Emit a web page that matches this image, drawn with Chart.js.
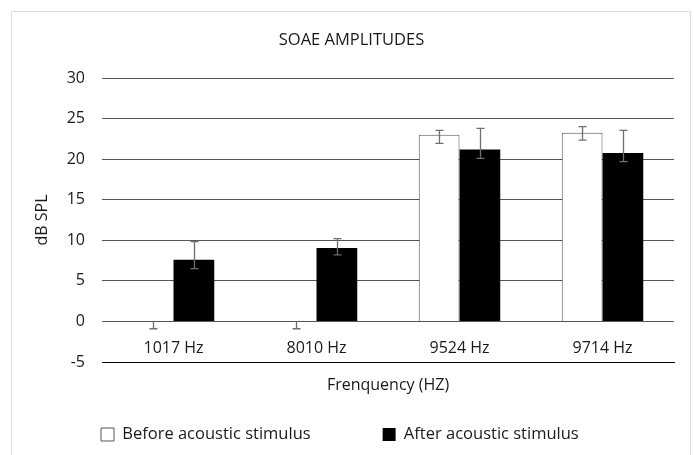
<!DOCTYPE html>
<html><head><meta charset="utf-8">
<script src="https://cdn.jsdelivr.net/npm/chart.js@4/dist/chart.umd.min.js"></script>
<style>html,body{margin:0;padding:0;background:#fff;}canvas{display:block;}</style>
</head><body>
<canvas id="c" width="694" height="455"></canvas>
<script>
const categories = ['1017 Hz', '8010 Hz', '9524 Hz', '9714 Hz'];
const seriesNames = ['Before acoustic stimulus', 'After acoustic stimulus'];
const beforeValues = [0, 0, 23.0, 23.25];
const beforeErrPlus = [0, 0, 0.55, 0.75];
const beforeErrMinus = [0.9, 0.9, 1.05, 0.9];
const afterValues = [7.6, 9.05, 21.2, 20.75];
const afterErrPlus = [2.25, 1.15, 2.6, 2.8];
const afterErrMinus = [1.1, 0.85, 1.1, 1.05];
const yMin = -5, yMax = 30, yStep = 5;
const chartTitle = 'SOAE AMPLITUDES';
const xTitle = 'Frenquency (HZ)';
const yTitle = 'dB SPL';

const FONT = 'Open Sans';
const TXT = '#1a1a1a';

const errors = [
  {plus: beforeErrPlus, minus: beforeErrMinus},
  {plus: afterErrPlus, minus: afterErrMinus}
];

const framePlugin = {
  id: 'frame',
  beforeDraw(chart) {
    const ctx = chart.ctx;
    ctx.save();
    ctx.strokeStyle = '#dedede';
    ctx.lineWidth = 1;
    ctx.strokeRect(11.5, 11.5, 679, 470);
    ctx.restore();
  }
};

const errorBarPlugin = {
  id: 'errorBars',
  afterDatasetsDraw(chart) {
    const ctx = chart.ctx;
    const y = chart.scales.y;
    ctx.save();
    ctx.strokeStyle = '#6e6e6e';
    ctx.lineWidth = 1.3;
    chart.data.datasets.forEach((ds, di) => {
      const meta = chart.getDatasetMeta(di);
      meta.data.forEach((bar, i) => {
        const v = ds.data[i];
        const hi = y.getPixelForValue(v + errors[di].plus[i]);
        const lo = y.getPixelForValue(v - errors[di].minus[i]);
        const x = Math.round(bar.x) + 0.5;
        const cap = 4;
        ctx.beginPath();
        ctx.moveTo(x, hi); ctx.lineTo(x, lo);
        if (errors[di].plus[i] > 0) { ctx.moveTo(x - cap, hi); ctx.lineTo(x + cap, hi); }
        if (errors[di].minus[i] > 0) { ctx.moveTo(x - cap, lo); ctx.lineTo(x + cap, lo); }
        ctx.stroke();
      });
    });
    ctx.restore();
  }
};

new Chart(document.getElementById('c'), {
  type: 'bar',
  data: {
    labels: categories,
    datasets: [
      {label: seriesNames[0], data: beforeValues, backgroundColor: '#ffffff', borderColor: '#555555', borderWidth: 1,
       categoryPercentage: 0.57, barPercentage: 1.0},
      {label: seriesNames[1], data: afterValues, backgroundColor: '#000000', borderColor: '#000000', borderWidth: 0,
       categoryPercentage: 0.57, barPercentage: 1.0}
    ]
  },
  options: {
    responsive: false,
    animation: false,
    devicePixelRatio: 1,
    layout: {padding: {top: 0, left: 29, right: 20, bottom: 2.25}},
    plugins: {
      title: {display: true, text: chartTitle, color: TXT,
        font: {family: FONT, size: 16.5, weight: 'normal'}, padding: {top: 30.1, bottom: 28.1}},
      legend: {position: 'bottom', align: 'start',
        labels: {font: {family: FONT, size: 16.5}, color: TXT, boxWidth: 13, boxHeight: 13, padding: 72},
        title: {display: true, text: '', font: {size: 10}, padding: {top: 0, bottom: -53}}},
      tooltip: {enabled: false}
    },
    scales: {
      x: {
        grid: {display: false},
        border: {display: true, color: '#000000', width: 1},
        ticks: {mirror: true, padding: 4, color: TXT, font: {family: FONT, size: 16}},
        title: {display: true, text: xTitle, color: TXT, font: {family: FONT, size: 16}, padding: {top: 0, bottom: 0.65}},
        afterFit(s) { s.height = 33.25; }
      },
      y: {
        min: yMin, max: yMax,
        ticks: {stepSize: yStep, padding: 17, color: TXT, font: {family: FONT, size: 16}},
        grid: {color: '#555555', drawTicks: false, lineWidth: 1},
        border: {display: false},
        title: {display: true, text: yTitle, color: TXT, font: {family: FONT, size: 16}, padding: {top: 3.4, bottom: 0}},
        afterFit(s) { s.width = 73; }
      }
    }
  },
  plugins: [framePlugin, errorBarPlugin]
});
</script>
</body></html>
